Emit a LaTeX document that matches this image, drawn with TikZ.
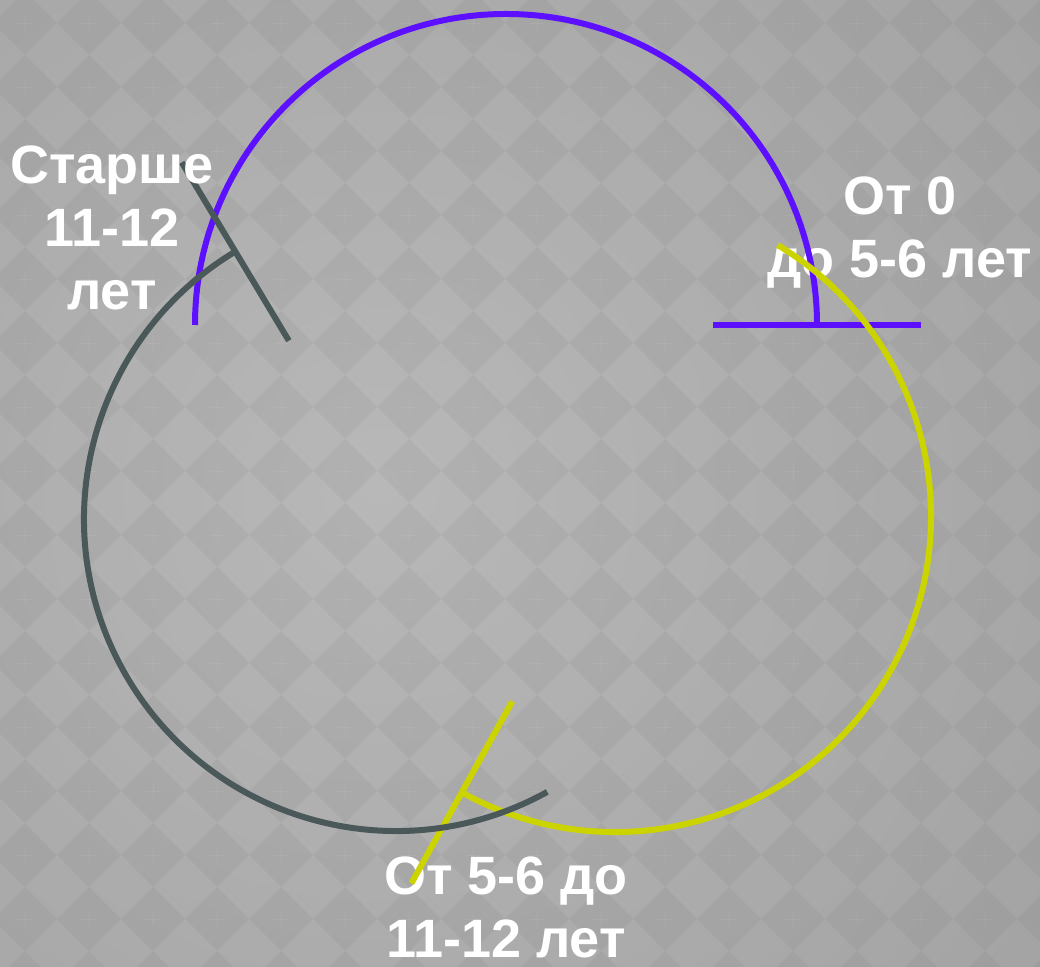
\documentclass[tikz,border=0pt]{standalone}
\usepackage{fontspec}
\setmainfont{Liberation Sans}
\usetikzlibrary{calc}

\definecolor{arcviolet}{RGB}{92,16,255}
\definecolor{arcyellow}{RGB}{204,212,0}
\definecolor{arcslate}{RGB}{74,88,89}
\definecolor{bglight}{RGB}{184,184,184}
\definecolor{bgdark}{RGB}{146,146,146}

\tikzset{
  agearc/.style={line width=6pt},
  agelabel/.style={text=white,font=\bfseries\fontsize{54}{63}\selectfont,
    align=center,inner sep=0pt},
}

\begin{document}
\begin{tikzpicture}[x=1pt,y=1pt]
    % size of the slide and of the arcs
    \pgfmathsetmacro{\W}{1040}
    \pgfmathsetmacro{\H}{966}
    \pgfmathsetmacro{\R}{312}
    \pgfmathsetmacro{\tickLen}{104}

    % background: grey gradient with a diamond checker
    \fill[bgdark] (0,0) rectangle (\W,\H);
    \begin{scope}
      \clip (0,0) rectangle (\W,\H);
      \shade[inner color=bglight,outer color=bgdark] (380,480) circle (1500);
      \foreach \i in {0,...,17}
        \foreach \j in {0,...,15} {
          \coordinate (cell) at (25+64*\i,\H-23-64*\j);
          \fill[black,opacity=0.035] (cell) +(-32,0) -- +(0,32) -- +(32,0) -- +(0,-32) -- cycle;
          \draw[white,opacity=0.07,line width=0.8pt] (cell) +(-7,0) -- +(7,0) +(0,-7) -- +(0,7);
        }
    \end{scope}
    \useasboundingbox (0,0) rectangle (\W,\H);

    % centres of the three stages
    \coordinate (early) at (506,641);
    \coordinate (middle) at (615,450);
    \coordinate (older) at (396,447);

    \node[agelabel,anchor=base] (earlytext) at (900,688) {От 0\\до 5-6 лет};
    \node[agelabel,anchor=base] (middletext) at (506,9) {От 5-6 до\\11-12 лет};

    % from 0 to 5-6
    \draw[agearc,arcviolet] (early) ++(180:311) arc[start angle=180,end angle=0,radius=311];
    \draw[agearc,arcviolet] (early) ++(0:311-\tickLen) -- ++(0:2*\tickLen);
    % from 5-6 to 11-12
    \draw[agearc,arcyellow] (middle) ++(59:316) arc[start angle=59,end angle=-119,radius=316];
    \draw[agearc,arcyellow] (middle) ++(-119:316-\tickLen) -- ++(-119:2*\tickLen);
    % older than 11-12
    \draw[agearc,arcslate] (older) ++(-61:\R) arc[start angle=-61,end angle=-239,radius=\R];
    \draw[agearc,arcslate] (older) ++(121:\R-\tickLen) -- ++(121:2*\tickLen);

    % this label lies over the slate tick
    \node[agelabel,anchor=base] (oldertext) at (112,656) {Старше\\11-12\\лет};
\end{tikzpicture}
\end{document}
